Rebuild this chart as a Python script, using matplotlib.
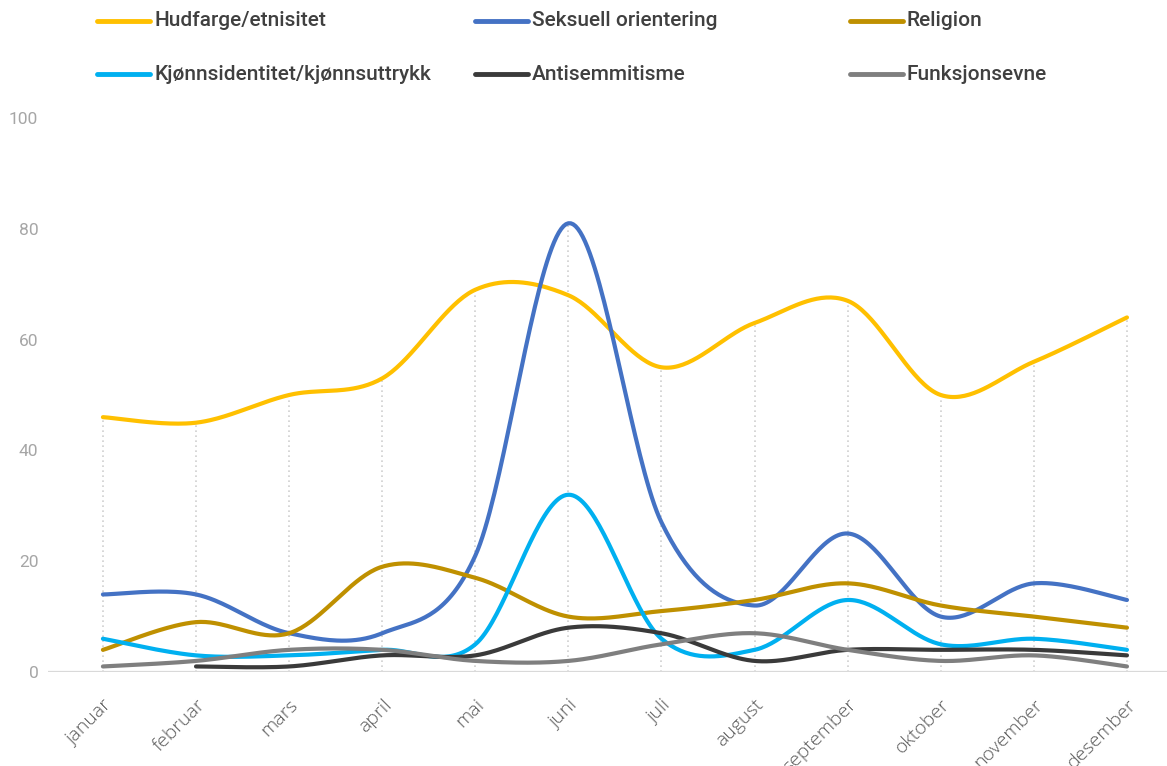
import numpy as np
import matplotlib
matplotlib.use("Agg")
import matplotlib.pyplot as plt
from matplotlib.lines import Line2D

# -----------------------------
# Data
# -----------------------------
months = ["januar", "februar", "mars", "april", "mai", "juni", "juli",
          "august", "september", "oktober", "november", "desember"]

hudfarge = [46, 45, 50, 53, 69, 68, 55, 63, 67, 50, 56, 64]
seksuell = [14, 14, 7, 7, 21, 81, 27, 12, 25, 10, 16, 13]
religion = [4, 9, 7, 19, 17, 10, 11, 13, 16, 12, 10, 8]
kjonn = [6, 3, 3, 4, 5, 32, 6, 4, 13, 5, 6, 4]
antisem = [np.nan, 1, 1, 3, 3, 8, 7, 2, 4, 4, 4, 3]
funksjon = [1, 2, 4, 4, 2, 2, 5, 7, 4, 2, 3, 1]

names = ["Hudfarge/etnisitet", "Seksuell orientering", "Religion",
         "Kjønnsidentitet/kjønnsuttrykk", "Antisemmitisme", "Funksjonsevne"]
series = [hudfarge, seksuell, religion, kjonn, antisem, funksjon]
colors = ["#FFC000", "#4472C4", "#BF9000", "#00B0F0", "#3A3A3A", "#7F7F7F"]

plt.rcParams["font.family"] = ["Roboto", "DejaVu Sans"]


def smooth(xs, ys, n=40):
    # Excel-style smoothed line (Catmull-Rom bezier), skipping gaps
    out_x, out_y = [], []
    pts = [(x, y) for x, y in zip(xs, ys) if not np.isnan(y)]
    px = np.array([p[0] for p in pts], float)
    py = np.array([p[1] for p in pts], float)
    m = len(px)
    for i in range(m - 1):
        i0 = max(i - 1, 0)
        i3 = min(i + 2, m - 1)
        p1 = np.array([px[i], py[i]])
        p2 = np.array([px[i + 1], py[i + 1]])
        p0 = np.array([px[i0], py[i0]])
        p3 = np.array([px[i3], py[i3]])
        c1 = p1 + (p2 - p0) / 6
        c2 = p2 - (p3 - p1) / 6
        t = np.linspace(0, 1, n)[:, None]
        b = ((1 - t) ** 3) * p1 + 3 * ((1 - t) ** 2) * t * c1 \
            + 3 * (1 - t) * t ** 2 * c2 + t ** 3 * p2
        out_x.extend(b[:, 0])
        out_y.extend(b[:, 1])
    return out_x, out_y


fig = plt.figure(figsize=(11.67, 7.66), dpi=100)
ax = fig.add_axes([48 / 1167, 94 / 766, 1 - 48 / 1167, 554 / 766])

x = np.arange(len(months))

# drop lines from the highest value down to the axis
tops = np.nanmax(np.array(series, float), axis=0)
ax.vlines(x, 0, tops, colors="#D0D0D0", linestyles=(0, (1, 2)), lw=1.2, zorder=1)

ax.axhline(0, color="#D9D9D9", lw=1.6, zorder=1)

for vals, col in zip(series, colors):
    sx, sy = smooth(x, vals)
    ax.plot(sx, sy, color=col, lw=3.0, solid_capstyle="round", zorder=3)

ax.set_xlim(-0.59, 11.43)
ax.set_ylim(0, 100)
ax.set_yticks([0, 20, 40, 60, 80, 100])
ax.set_xticks(x)
ax.set_xticklabels(months, rotation=45, ha="right", va="top",
                   rotation_mode="anchor", color="#595959", fontsize=14,
                   fontfamily="Open Sans", fontweight="light")
ax.tick_params(axis="x", length=0, pad=17)
ax.tick_params(axis="y", length=0, pad=7, labelcolor="#A6A6A6", labelsize=12.5)
for s in ax.spines.values():
    s.set_visible(False)

# legend, three columns on two rows
col_x = [97, 475, 850]
row_y = [21, 74]
for k, (name, col) in enumerate(zip(names, colors)):
    cx = col_x[k % 3]
    cy = row_y[k // 3]
    fx0 = cx / 1167
    fx1 = (cx + 53) / 1167
    fy = 1 - cy / 766
    fig.add_artist(Line2D([fx0, fx1], [fy, fy], color=col, lw=3.5,
                          solid_capstyle="round", transform=fig.transFigure))
    fig.text((cx + 57) / 1167, fy, name, color="#404040", fontsize=15,
             va="center", ha="left", fontweight="medium")

fig.savefig("out.png", dpi=100)
